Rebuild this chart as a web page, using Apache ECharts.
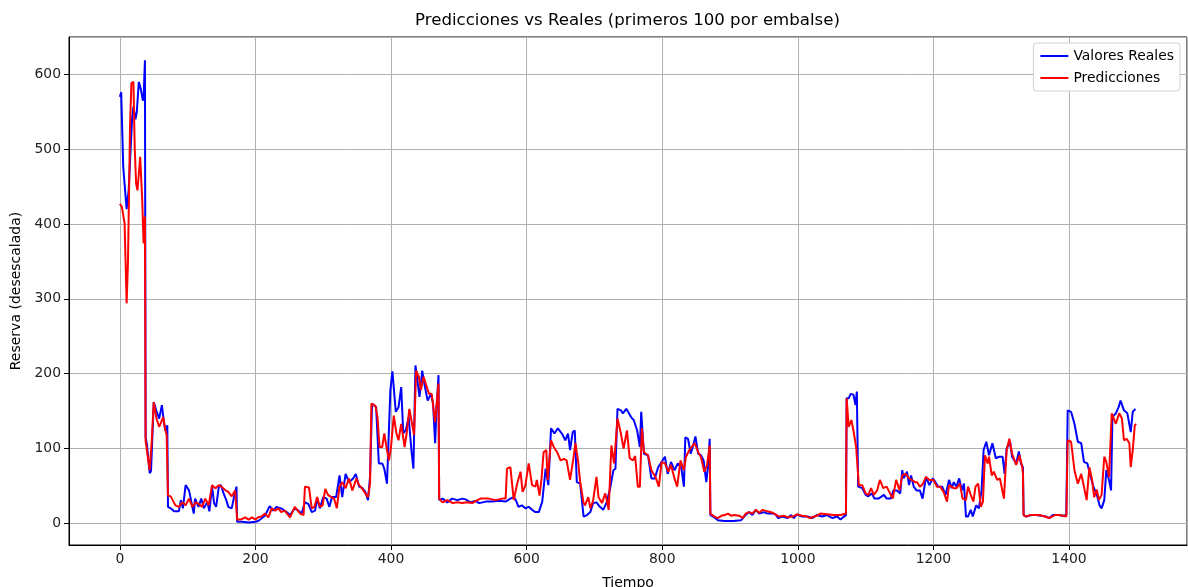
<!DOCTYPE html>
<html>
<head>
<meta charset="utf-8">
<script src="https://cdn.jsdelivr.net/npm/echarts@6/dist/echarts.min.js"></script>
<style>
html,body{margin:0;padding:0;background:#fff}
#chart{width:1188px;height:587px}
</style>
</head>
<body>
<div id="chart"></div>
<script>
// valores (tiempo / reserva desescalada)
const realX = [
  0,2,5,10,13,18,20,23,25,28, 31,34,35,37,38,40,44,46,50,54,
  58,62,65,67,70,71,75,80,87,90, 93,97,102,105,109,111,116,120,124,129,
  132,136,139,142,146,149,153,157,160,165, 169,172,173,180,190,200,204,207,214,221,
  226,231,238,246,251,258,263,268,273,278, 283,288,291,295,300,305,309,313,319,324,
  328,333,338,344,348,353,358,362,366,369, 372,378,382,387,390,394,396,399,402,407,
  411,415,418,422,426,430,433,436,438,442, 446,449,454,459,462,465,467,470,471,476,
  483,490,498,505,510,517,524,530,540,549, 559,569,576,581,584,588,593,598,603,608,
  613,618,623,628,632,636,641,646,652,657, 661,664,668,671,674,679,684,689,694,698,
  703,708,713,718,723,728,731,734,739,742, 747,754,758,763,767,769,771,773,779,784,
  789,794,799,804,808,813,818,823,828,832, 834,838,842,845,849,853,857,861,865,868,
  870,871,875,882,892,905,916,923,928,933, 938,943,950,955,963,967,971,977,985,990,
  994,999,1006,1014,1021,1028,1036,1043,1051,1058, 1063,1068,1071,1072,1075,1078,1082,1085,1087,1089,
  1095,1100,1104,1109,1113,1119,1127,1131,1137,1141, 1146,1151,1154,1156,1161,1164,1167,1171,1175,1180,
  1184,1189,1194,1199,1203,1207,1213,1218,1223,1227, 1230,1234,1238,1242,1245,1248,1251,1255,1258,1263,
  1267,1271,1274,1278,1282,1287,1292,1297,1302,1305, 1308,1313,1316,1322,1326,1329,1332,1333,1337,1344,
  1351,1359,1366,1371,1376,1384,1391,1396,1398,1403, 1408,1413,1418,1422,1427,1432,1436,1441,1445,1448,
  1452,1455,1459,1462,1464,1469,1473,1476,1481,1486, 1491,1494,1498,1499
];
const realY = [
  570,576,476,420,445,540,557,540,550,590, 580,565,568,619,115,105,67,70,162,150,
  140,158,135,124,131,22,20,16,16,31, 20,51,44,31,13,33,22,33,20,29,
  16,49,27,22,49,51,40,31,22,20, 38,49,2,2,1,2,3,5,10,23,
  17,22,20,15,11,20,17,13,28,26, 15,17,33,20,35,33,22,35,35,64,
  35,66,55,60,66,49,47,42,31,62, 160,155,80,80,73,53,52,178,203,149,
  155,182,120,125,142,98,73,211,213,169, 204,187,164,173,160,107,151,198,31,33,
  28,33,31,33,32,28,30,27,29,29, 30,29,33,35,31,22,24,20,22,18,
  15,15,29,73,51,127,120,127,120,111, 120,98,122,124,55,53,9,11,15,27,
  28,22,18,28,46,71,73,153,151,147, 153,142,138,124,102,149,151,93,91,60,
  60,75,82,89,66,82,71,80,75,49, 115,113,93,102,116,93,91,84,55,80,
  113,11,9,4,3,3,4,11,15,11, 18,13,15,13,13,12,7,9,7,11,
  7,12,9,9,7,11,9,11,7,9, 5,9,11,167,167,173,172,158,176,49,
  47,38,36,40,33,33,38,33,33,44, 44,40,71,60,69,51,64,49,44,44,
  33,62,51,60,55,49,49,38,58,47, 55,49,60,44,53,9,9,18,9,24,
  20,44,98,109,91,107,87,89,89,66, 100,109,89,80,96,80,75,11,9,11,
  11,10,9,7,11,11,10,11,151,149, 133,109,107,82,80,62,49,38,24,20,
  31,71,58,44,142,147,155,164,151,147, 122,149,153,153
];
const predX = [
  0,3,7,10,12,15,17,20,22,24, 26,30,33,35,37,38,41,44,47,50,
  54,58,64,67,69,71,75,77,82,87, 92,97,102,107,112,116,121,126,131,136,
  141,146,150,156,160,165,170,172,173,178, 185,190,195,200,204,209,214,219,224,229,
  234,238,243,251,258,266,271,273,279,283, 287,291,295,299,303,307,312,316,320,324,
  328,333,338,343,349,352,357,362,366,369, 371,377,380,383,387,390,394,397,400,404,
  408,411,415,420,423,427,431,434,437,441, 444,448,451,456,460,465,469,470,471,476,
  483,491,498,505,512,520,525,532,544,554, 564,569,571,576,581,586,591,594,598,603,
  608,613,615,619,622,625,629,631,636,640, 645,650,655,659,664,669,672,676,679,684,
  686,691,694,698,703,706,711,716,721,725, 729,734,739,743,748,752,757,760,764,767,
  770,773,779,784,790,795,799,804,809,813, 818,822,827,832,835,840,845,848,853,857,
  862,866,870,871,877,882,887,892,897,902, 906,914,919,923,928,933,938,943,948,955,
  963,967,972,980,985,992,999,1006,1013,1018, 1028,1033,1043,1053,1063,1071,1072,1075,1079,1082,
  1086,1090,1095,1100,1104,1108,1112,1117,1121,1126, 1131,1136,1140,1145,1150,1154,1159,1164,1168,1173,
  1176,1180,1184,1189,1194,1200,1205,1210,1215,1220, 1223,1230,1234,1239,1243,1248,1251,1255,1259,1262,
  1266,1270,1273,1276,1280,1282,1286,1289,1294,1298, 1304,1308,1312,1316,1322,1327,1331,1332,1333,1337,
  1343,1349,1356,1364,1371,1379,1386,1391,1396,1398, 1403,1408,1413,1418,1422,1426,1430,1434,1437,1441,
  1444,1448,1452,1455,1459,1463,1466,1469,1474,1478, 1481,1485,1489,1491,1494,1497,1499
];
const predY = [
  427,423,401,294,350,530,588,590,500,454, 445,490,432,374,410,110,90,71,110,162,
  140,129,142,125,118,37,36,35,24,22, 28,24,33,22,28,26,22,33,24,51,
  47,51,49,44,42,36,44,42,5,5, 8,5,8,5,8,9,13,8,20,17,
  20,15,17,8,22,13,11,49,48,20, 22,35,22,24,46,38,35,33,20,49,
  55,47,60,44,60,52,47,40,35,53, 160,157,142,102,102,120,98,84,102,144,
  120,111,133,102,120,153,133,118,204,196, 178,196,187,173,173,135,178,187,33,28,
  31,27,28,27,28,27,30,33,33,31, 33,33,73,75,31,53,69,42,50,80,
  51,49,58,37,60,95,98,58,111,102, 95,84,86,84,58,87,107,82,55,27,
  24,35,20,30,62,35,27,40,18,104, 80,140,120,100,124,87,84,90,49,49,
  127,95,91,71,62,49,82,80,69,78, 60,49,84,71,89,98,104,107,95,89,
  69,77,104,13,9,7,10,11,13,10, 11,10,7,13,15,13,18,14,18,16,
  14,12,9,10,8,9,12,10,9,7, 10,13,12,11,11,13,167,129,138,124,
  102,51,51,40,38,47,38,44,58,47, 49,40,33,58,44,64,66,60,58,55,
  55,49,52,62,58,58,49,49,42,29, 51,47,47,53,33,31,49,38,29,49,
  53,22,29,91,80,89,64,69,58,60, 33,98,113,93,78,91,75,66,11,9,
  11,11,11,9,7,11,11,10,9,111, 109,71,53,66,49,31,75,58,35,45,
  31,38,89,82,62,147,140,133,147,140, 111,113,107,75,98,131,133
];
const seriesNames = ['Valores Reales', 'Predicciones'];

function toPairs(xs, ys) {
  return xs.map((x, i) => [x, ys[i]]);
}

const font = 'DejaVu Sans';
const myChart = echarts.init(document.getElementById('chart'));

const option = {
  animation: false,
  backgroundColor: '#fff',
  title: {
    text: 'Predicciones vs Reales (primeros 100 por embalse)',
    left: 415,
    top: 12,
    padding: 0,
    textStyle: { fontFamily: font, fontSize: 16.6, fontWeight: 'normal', color: '#000' }
  },
  legend: {
    orient: 'vertical',
    right: 8,
    top: 43,
    padding: [6, 6, 6, 7],
    itemGap: 8,
    itemWidth: 28,
    itemHeight: 2,
    icon: 'rect',
    backgroundColor: '#fff',
    borderColor: '#d0d0d0',
    borderWidth: 1,
    borderRadius: 3,
    textStyle: { fontFamily: font, fontSize: 13.9, color: '#000' },
    data: seriesNames
  },
  grid: {
    left: 69,
    right: 1,
    top: 37,
    bottom: 42,
    containLabel: false,
    outerBoundsMode: 'none',
    show: true,
    borderColor: '#000',
    borderWidth: 1
  },
  xAxis: {
    type: 'value',
    min: -75,
    max: 1574,
    splitNumber: 8,
    name: 'Tiempo',
    nameLocation: 'middle',
    nameGap: 31,
    nameTextStyle: { fontFamily: font, fontSize: 14, color: '#000' },
    axisLine: { show: true, onZero: false, lineStyle: { color: '#000', width: 1 } },
    axisTick: { show: true, length: 5, lineStyle: { color: '#000' } },
    axisLabel: {
      fontFamily: font, fontSize: 13.9, color: '#222', margin: 7,
      showMinLabel: false, showMaxLabel: false,
      formatter: v => String(v)
    },
    splitLine: { show: true, lineStyle: { color: '#b0b0b0', width: 1 } }
  },
  yAxis: {
    type: 'value',
    min: -29,
    max: 650,
    splitNumber: 7,
    name: 'Reserva (desescalada)',
    nameLocation: 'middle',
    nameGap: 41,
    nameTextStyle: { fontFamily: font, fontSize: 14, color: '#000' },
    axisLine: { show: true, onZero: false, lineStyle: { color: '#000', width: 1 } },
    axisTick: { show: true, length: 5, lineStyle: { color: '#000' } },
    axisLabel: {
      fontFamily: font, fontSize: 13.9, color: '#222', margin: 8,
      showMinLabel: false, showMaxLabel: false,
      formatter: v => String(v)
    },
    splitLine: { show: true, lineStyle: { color: '#b0b0b0', width: 1 } }
  },
  series: [
    {
      name: seriesNames[0],
      type: 'line',
      data: toPairs(realX, realY),
      showSymbol: false,
      symbol: 'none',
      color: '#0000ff',
      lineStyle: { color: '#0000ff', width: 2 },
      z: 2
    },
    {
      name: seriesNames[1],
      type: 'line',
      data: toPairs(predX, predY),
      showSymbol: false,
      symbol: 'none',
      color: '#ff0000',
      lineStyle: { color: '#ff0000', width: 2 },
      z: 3
    }
  ]
};
myChart.setOption(option);
window.onresize = myChart.resize;
</script>
</body>
</html>
